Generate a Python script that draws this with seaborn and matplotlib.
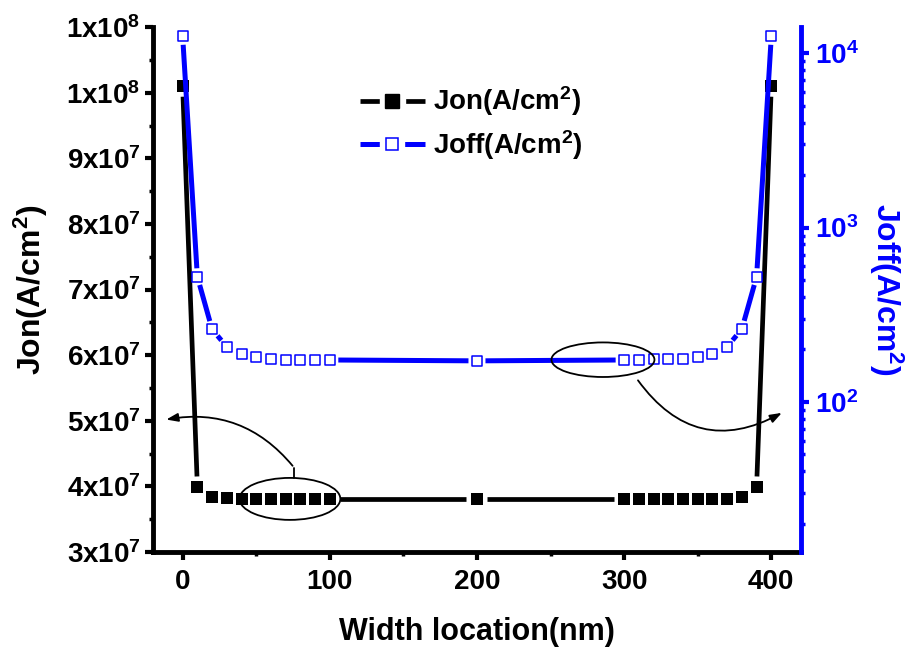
import numpy as np
import pandas as pd
import matplotlib
matplotlib.use("Agg")
import matplotlib.pyplot as plt
import seaborn as sns
from matplotlib.patches import Ellipse, FancyArrowPatch
from matplotlib.lines import Line2D
from matplotlib.ticker import FixedLocator, FixedFormatter, MultipleLocator, LogLocator, NullFormatter

# ---------------- data ----------------
width_nm = [0, 10, 20, 30, 40, 50, 60, 70, 80, 90, 100, 200,
            300, 310, 320, 330, 340, 350, 360, 370, 380, 390, 400]
jon = [1.01e8, 3.99e7, 3.84e7, 3.82e7, 3.81e7, 3.80e7, 3.80e7, 3.80e7, 3.80e7, 3.80e7, 3.80e7, 3.80e7,
       3.80e7, 3.80e7, 3.80e7, 3.80e7, 3.80e7, 3.80e7, 3.80e7, 3.81e7, 3.84e7, 3.99e7, 1.01e8]
joff = [12500, 522, 261, 207, 188, 180, 176, 175, 174, 174, 174, 172,
        174, 174, 176, 176, 177, 180, 188, 207, 262, 522, 12500]

jon_tick_vals = [3e7, 4e7, 5e7, 6e7, 7e7, 8e7, 9e7, 1e8, 1.1e8]
jon_tick_labels = ["3x10$^7$", "4x10$^7$", "5x10$^7$", "6x10$^7$", "7x10$^7$",
                   "8x10$^7$", "9x10$^7$", "1x10$^8$", "1x10$^8$"]
joff_tick_vals = [1e2, 1e3, 1e4]
joff_tick_labels = ["10$^2$", "10$^3$", "10$^4$"]
x_ticks = [0, 100, 200, 300, 400]

BLUE = "#0000FF"

# ---------------- style ----------------
sns.set_style("ticks")
plt.rcParams.update({
    "font.family": ["Liberation Sans", "DejaVu Sans"],
    "font.weight": "bold",
    "axes.labelweight": "bold",
    "text.color": "black",
    "axes.labelcolor": "black",
    "axes.edgecolor": "black",
    "xtick.color": "black",
    "ytick.color": "black",
    "mathtext.fontset": "custom",
    "mathtext.rm": "Liberation Sans:bold",
    "mathtext.it": "Liberation Sans:bold",
    "mathtext.bf": "Liberation Sans:bold",
    "mathtext.sf": "Liberation Sans:bold",
})

fig = plt.figure(figsize=(9.12, 6.47), dpi=100)
ax = fig.add_axes([0.168, 0.147, 0.710, 0.811])
ax2 = ax.twinx()

ax.set_xlim(-20, 420)
ax.set_ylim(3e7, 1.1e8)
ax2.set_yscale("log")
ax2.set_ylim(13.8, 14100)

df = pd.DataFrame({"x": width_nm, "jon": jon, "joff": joff})


def gapped_segments(axis, xs, ys, gap_px):
    """Split the polyline into segments that stop gap_px short of each marker (Origin style)."""
    pts = axis.transData.transform(np.column_stack([xs, ys]))
    inv = axis.transData.inverted()
    rows = []
    for i in range(len(pts) - 1):
        p, q = pts[i], pts[i + 1]
        v = q - p
        L = np.hypot(v[0], v[1])
        if L <= 2 * gap_px:
            continue
        u = v / L
        a = inv.transform(p + u * gap_px)
        b = inv.transform(q - u * gap_px)
        rows.append((i, a[0], a[1]))
        rows.append((i, b[0], b[1]))
    return pd.DataFrame(rows, columns=["seg", "x", "y"])


# Jon (left axis)
seg_on = gapped_segments(ax, df["x"].values, df["jon"].values, 10.5)
sns.lineplot(data=seg_on, x="x", y="y", units="seg", estimator=None, sort=False,
             ax=ax, color="black", lw=3.4, solid_capstyle="butt", legend=False, zorder=2)
sns.scatterplot(data=df, x="x", y="jon", ax=ax, marker="s", s=8.2**2,
                color="black", edgecolor="black", linewidth=0, legend=False, zorder=4)

# Joff (right axis)
seg_off = gapped_segments(ax2, df["x"].values, df["joff"].values, 8.5)
sns.lineplot(data=seg_off, x="x", y="y", units="seg", estimator=None, sort=False,
             ax=ax2, color=BLUE, lw=3.6, solid_capstyle="butt", legend=False, zorder=2)
sns.scatterplot(data=df, x="x", y="joff", ax=ax2, marker="s", s=6.8**2,
                color=BLUE, facecolors="white", edgecolor=BLUE, linewidth=1.1,
                legend=False, zorder=4)

# restore limits
ax.set_xlim(-20, 420)
ax.set_ylim(3e7, 1.1e8)
ax2.set_ylim(13.8, 14100)

# ---------------- axes styling ----------------
for a in (ax, ax2):
    a.spines["top"].set_visible(False)
ax.spines["right"].set_visible(False)
ax2.spines["left"].set_visible(False)
ax2.spines["bottom"].set_visible(False)
ax.spines["left"].set_linewidth(3.5)
ax.spines["bottom"].set_linewidth(3.5)
ax.spines["left"].set_color("black")
ax.spines["bottom"].set_color("black")
ax2.spines["right"].set_linewidth(3.5)
ax2.spines["right"].set_color(BLUE)

ax.xaxis.set_major_locator(FixedLocator(x_ticks))
ax.xaxis.set_minor_locator(MultipleLocator(50))
ax.yaxis.set_major_locator(FixedLocator(jon_tick_vals))
ax.yaxis.set_major_formatter(FixedFormatter(jon_tick_labels))
ax.yaxis.set_minor_locator(MultipleLocator(5e6))

ax.tick_params(axis="both", which="major", direction="out", length=6, width=3,
               labelsize=20, colors="black")
ax.tick_params(axis="both", which="minor", direction="out", length=3, width=2.5, colors="black")
ax.tick_params(axis="y", which="major", pad=3)
ax.tick_params(axis="x", which="major", pad=6)

ax2.yaxis.set_major_locator(FixedLocator(joff_tick_vals))
ax2.yaxis.set_major_formatter(FixedFormatter(joff_tick_labels))
ax2.yaxis.set_minor_locator(LogLocator(base=10, subs=np.arange(2, 10)))
ax2.yaxis.set_minor_formatter(NullFormatter())
ax2.tick_params(axis="y", which="major", direction="out", length=6, width=3,
                labelsize=20, colors=BLUE, pad=4)
ax2.tick_params(axis="y", which="minor", direction="out", length=3, width=2.5, colors=BLUE)

ax.set_xlabel("Width location(nm)", fontsize=22, fontweight="bold", labelpad=16, color="black")
ax.set_ylabel("Jon(A/cm$^2$)", fontsize=23, fontweight="bold", labelpad=12, color="black")
ax2.set_ylabel("Joff(A/cm$^2$)", fontsize=23, fontweight="bold", color=BLUE,
               rotation=270, labelpad=34)

# ---------------- annotations ----------------
ann_kw = dict(facecolor="none", edgecolor="black", lw=1.3, zorder=10)
ax2.add_patch(Ellipse((72.9, 3.808e7), 68.5, 0.64e7, transform=ax.transData, **ann_kw))
ax2.add_patch(Ellipse((285.6, 5.93e7), 70.0, 0.527e7, transform=ax.transData, **ann_kw))

ax2.plot([75.9, 75.9], [4.128e7, 4.28e7], color="black", lw=1.3, transform=ax.transData,
         zorder=10)
ax2.add_patch(FancyArrowPatch((75.9, 4.28e7), (-13.0, 5.01e7), transform=ax.transData,
                              connectionstyle="arc3,rad=0.3",
                              arrowstyle="-|>,head_length=0.5,head_width=0.18",
                              mutation_scale=14, color="black", lw=1.3, zorder=10))
ax2.add_patch(FancyArrowPatch((308.3, 5.65e7), (408.8, 5.14e7), transform=ax.transData,
                              connectionstyle="arc3,rad=0.45",
                              arrowstyle="-|>,head_length=0.5,head_width=0.18",
                              mutation_scale=14, color="black", lw=1.3, zorder=10))

# ---------------- legend ----------------
h_on = (Line2D([], [], color="black", lw=3.4, solid_capstyle="butt"),
        Line2D([], [], ls="", marker="s", ms=18, mfc="white", mec="white"),
        Line2D([], [], ls="", marker="s", ms=10, mfc="black", mec="black"))
h_off = (Line2D([], [], color=BLUE, lw=3.6, solid_capstyle="butt"),
         Line2D([], [], ls="", marker="s", ms=17, mfc="white", mec="white"),
         Line2D([], [], ls="", marker="s", ms=8, mfc="white", mec=BLUE, mew=1.1))
leg = ax2.legend([h_on, h_off], ["Jon(A/cm$^2$)", "Joff(A/cm$^2$)"],
                 loc="center left", bbox_to_anchor=(0.319, 0.817), frameon=False,
                 prop={"size": 20, "weight": "bold"}, handlelength=2.35, handletextpad=0.3,
                 labelspacing=0.35, borderpad=0, borderaxespad=0)
for t in leg.get_texts():
    t.set_color("black")

fig.savefig("out.png", dpi=100)
